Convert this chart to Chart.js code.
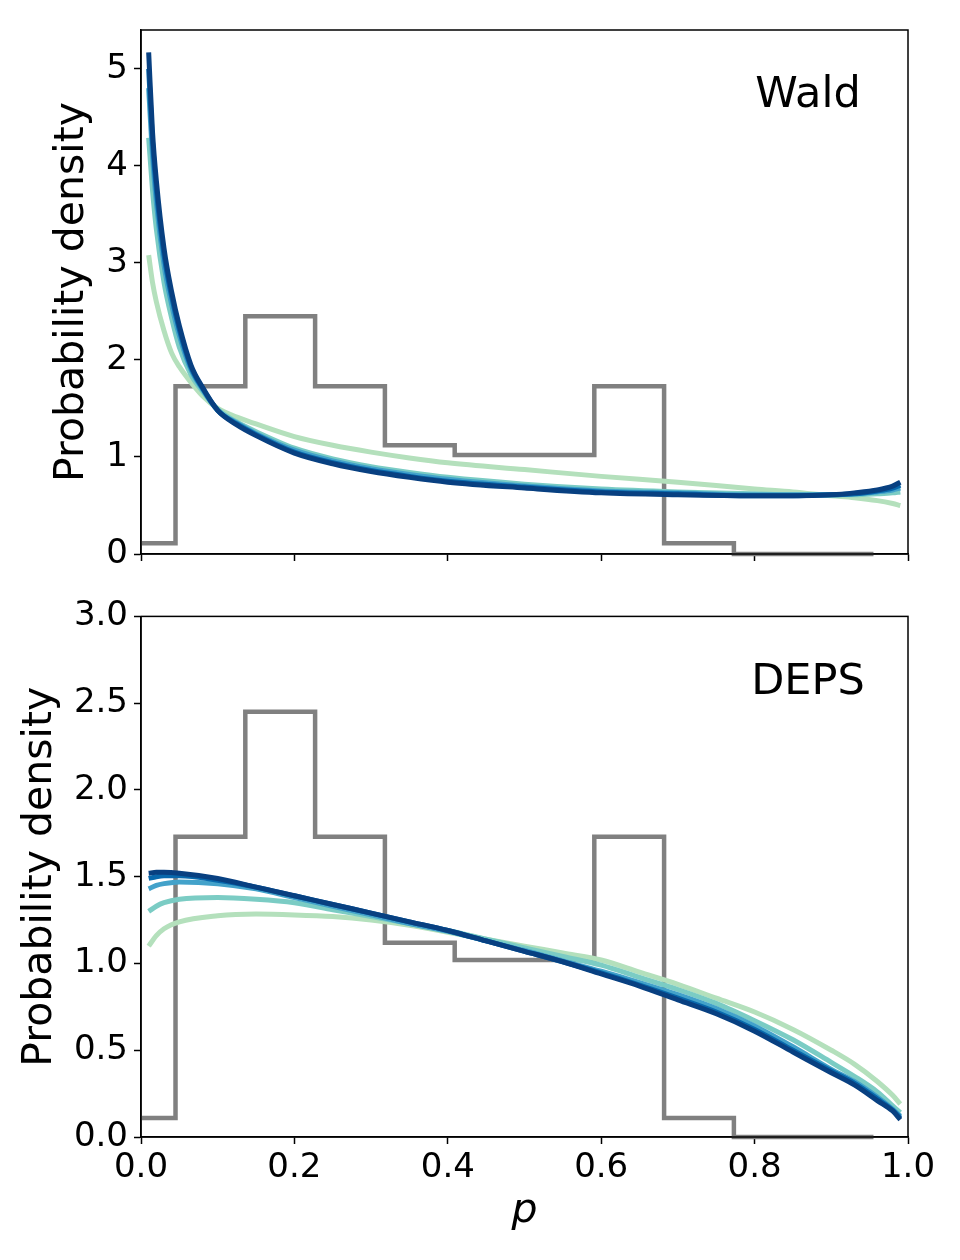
<!DOCTYPE html>
<html>
<head>
<meta charset="utf-8">
<script src="https://cdn.jsdelivr.net/npm/chart.js@4"></script>
<style>
  body { margin: 0; background: #fff; }
  #wrap { position: relative; width: 960px; height: 1260px; }
  canvas { position: absolute; left: 0; }
</style>
</head>
<body>
<div id="wrap">
  <canvas id="wald-chart" width="960" height="600" style="top:0"></canvas>
  <canvas id="deps-chart" width="960" height="670" style="top:590px"></canvas>
</div>
<script>
// histogram of observed p (same in both panels)
const histEdges = [-0.045, 0.045, 0.136, 0.227, 0.318, 0.409, 0.5, 0.591, 0.682, 0.773, 0.864, 0.955];
const histValues = [0.11, 1.73, 2.45, 1.73, 1.12, 1.02, 1.02, 1.73, 0.11, 0, 0];

// Wald panel curves
const pWald = [0.01, 0.015, 0.02, 0.03, 0.04, 0.05, 0.065, 0.08, 0.1, 0.125, 0.15, 0.2, 0.25, 0.3, 0.35, 0.4, 0.5, 0.6, 0.7, 0.8, 0.85, 0.9, 0.93, 0.96, 0.98, 0.99];
const waldGreen = [3.08, 2.8, 2.6, 2.3, 2.07, 1.93, 1.77, 1.63, 1.5, 1.41, 1.34, 1.21, 1.12, 1.05, 0.99, 0.94, 0.87, 0.8, 0.74, 0.67, 0.64, 0.6, 0.58, 0.55, 0.52, 0.5];
const waldTeal = [4.29, 3.75, 3.35, 2.8, 2.43, 2.13, 1.85, 1.68, 1.49, 1.36, 1.26, 1.09, 0.98, 0.9, 0.84, 0.79, 0.72, 0.67, 0.64, 0.62, 0.61, 0.61, 0.61, 0.62, 0.63, 0.64];
const waldLightBlue = [4.8, 4.1, 3.62, 2.98, 2.57, 2.25, 1.9, 1.7, 1.48, 1.35, 1.24, 1.07, 0.96, 0.88, 0.82, 0.77, 0.7, 0.65, 0.63, 0.61, 0.61, 0.61, 0.62, 0.64, 0.66, 0.68];
const waldBlue = [5.0, 4.25, 3.75, 3.08, 2.65, 2.31, 1.93, 1.71, 1.48, 1.34, 1.23, 1.05, 0.94, 0.86, 0.8, 0.75, 0.69, 0.64, 0.62, 0.6, 0.6, 0.61, 0.62, 0.65, 0.68, 0.71];
const waldNavy = [5.17, 4.35, 3.85, 3.15, 2.7, 2.35, 1.95, 1.72, 1.48, 1.33, 1.22, 1.04, 0.93, 0.85, 0.79, 0.74, 0.68, 0.63, 0.61, 0.6, 0.6, 0.61, 0.63, 0.66, 0.7, 0.74];

// DEPS panel curves
const pDeps = [0.01, 0.02, 0.03, 0.05, 0.1, 0.15, 0.2, 0.25, 0.3, 0.35, 0.4, 0.45, 0.5, 0.55, 0.6, 0.65, 0.7, 0.75, 0.8, 0.85, 0.9, 0.93, 0.96, 0.98, 0.99];
const depsGreen = [1.1, 1.16, 1.2, 1.24, 1.275, 1.285, 1.28, 1.27, 1.25, 1.22, 1.18, 1.14, 1.1, 1.06, 1.02, 0.95, 0.88, 0.8, 0.72, 0.62, 0.5, 0.42, 0.32, 0.24, 0.19];
const depsTeal = [1.3, 1.33, 1.35, 1.37, 1.38, 1.37, 1.35, 1.31, 1.27, 1.23, 1.19, 1.14, 1.09, 1.04, 0.99, 0.92, 0.85, 0.77, 0.67, 0.56, 0.43, 0.35, 0.26, 0.18, 0.14];
const depsLightBlue = [1.43, 1.45, 1.46, 1.47, 1.46, 1.43, 1.38, 1.33, 1.28, 1.23, 1.185, 1.13, 1.075, 1.015, 0.955, 0.89, 0.82, 0.74, 0.64, 0.52, 0.39, 0.32, 0.23, 0.16, 0.12];
const depsBlue = [1.49, 1.5, 1.505, 1.505, 1.48, 1.44, 1.39, 1.34, 1.29, 1.24, 1.19, 1.13, 1.07, 1.01, 0.945, 0.875, 0.8, 0.72, 0.62, 0.5, 0.38, 0.31, 0.22, 0.155, 0.11];
const depsNavy = [1.52, 1.525, 1.525, 1.52, 1.49, 1.44, 1.39, 1.34, 1.29, 1.24, 1.19, 1.13, 1.07, 1.01, 0.94, 0.87, 0.79, 0.71, 0.61, 0.49, 0.37, 0.3, 0.21, 0.15, 0.1];

const curveColors = ['#b4e0bc', '#7bccc4', '#43a2ca', '#0868ac', '#084081'];
const xTicks = [0, 0.2, 0.4, 0.6, 0.8, 1.0];
const waldTicks = [0, 1, 2, 3, 4, 5];
const depsTicks = [0, 0.5, 1.0, 1.5, 2.0, 2.5, 3.0];

const FONT = '"DejaVu Sans", sans-serif';

// box round the plot + the panel name
const framePlugin = {
  id: 'frame',
  afterDraw: function(chart, args, opts) {
    const a = chart.chartArea;
    const ctx = chart.ctx;
    ctx.save();
    ctx.strokeStyle = '#000';
    ctx.lineWidth = 1.5;
    ctx.strokeRect(a.left, a.top, a.right - a.left, a.bottom - a.top);
    ctx.fillStyle = '#000';
    ctx.font = '43px ' + FONT;
    ctx.textAlign = 'center';
    ctx.textBaseline = 'middle';
    ctx.fillText(opts.label, a.right - 100, a.top + 66);
    ctx.restore();
  }
};

function histPoints() {
  const pts = [];
  for (let i = 0; i < histValues.length; i++) {
    pts.push({ x: histEdges[i], y: histValues[i] });
  }
  pts.push({ x: histEdges[histEdges.length - 1], y: histValues[histValues.length - 1] });
  return pts;
}

function curve(xs, ys) {
  return xs.map(function(x, i) { return { x: x, y: ys[i] }; });
}

function makeChart(id, opt) {
  const datasets = [];
  opt.curves.forEach(function(ys, i) {
    datasets.push({
      data: curve(opt.p, ys),
      borderColor: curveColors[i],
      borderWidth: 5,
      pointRadius: 0,
      cubicInterpolationMode: 'monotone',
      order: 4 - i
    });
  });
  datasets.push({
    data: histPoints(),
    borderColor: '#808080',
    borderWidth: 4.5,
    pointRadius: 0,
    stepped: true,
    clip: { left: 0, top: 0, right: 0, bottom: 3 },
    order: 10
  });

  return new Chart(document.getElementById(id), {
    type: 'line',
    data: { datasets: datasets },
    plugins: [framePlugin],
    options: {
      responsive: false,
      animation: false,
      layout: { padding: opt.padding },
      plugins: {
        legend: { display: false },
        tooltip: { enabled: false },
        frame: { label: opt.label }
      },
      scales: {
        x: {
          type: 'linear',
          min: 0,
          max: 1,
          afterBuildTicks: function(s) { s.ticks = xTicks.map(function(v) { return { value: v }; }); },
          afterFit: function(s) { s.height = opt.xHeight; },
          border: { color: '#000', width: 1.5 },
          grid: { drawOnChartArea: false, tickLength: 7, tickColor: '#000', tickWidth: 1.5 },
          ticks: {
            display: opt.showX,
            color: '#000',
            padding: 4,
            maxRotation: 0,
            font: { family: FONT, size: 34 },
            callback: function(v) { return v.toFixed(1); }
          },
          title: {
            display: opt.showX,
            text: 'p',
            color: '#000',
            padding: { top: 0, bottom: 24 },
            font: { family: FONT, size: 41, style: 'italic' }
          }
        },
        y: {
          min: 0,
          max: opt.yMax,
          afterBuildTicks: function(s) { s.ticks = opt.yTicks.map(function(v) { return { value: v }; }); },
          afterFit: function(s) { s.width = opt.yWidth; },
          border: { color: '#000', width: 1.5 },
          grid: { drawOnChartArea: false, tickLength: 7, tickColor: '#000', tickWidth: 1.5 },
          ticks: {
            color: '#000',
            padding: 6,
            font: { family: FONT, size: 34 },
            callback: function(v) { return v.toFixed(opt.decimals); }
          },
          title: {
            display: true,
            text: 'Probability density',
            color: '#000',
            padding: { top: 0, bottom: 0 },
            font: { family: FONT, size: 41 }
          }
        }
      }
    }
  });
}

document.addEventListener('DOMContentLoaded', function() {
  makeChart('wald-chart', {
    label: 'Wald',
    p: pWald,
    curves: [waldGreen, waldTeal, waldLightBlue, waldBlue, waldNavy],
    yMax: 5.4,
    yTicks: waldTicks,
    decimals: 0,
    showX: false,
    padding: { left: 48, top: 30, right: 52, bottom: 0 },
    yWidth: 93,
    xHeight: 46
  });

  makeChart('deps-chart', {
    label: 'DEPS',
    p: pDeps,
    curves: [depsGreen, depsTeal, depsLightBlue, depsBlue, depsNavy],
    yMax: 3.0,
    yTicks: depsTicks,
    decimals: 1,
    showX: true,
    padding: { left: 16, top: 25, right: 52, bottom: 0 },
    yWidth: 125,
    xHeight: 123
  });
});
</script>
</body>
</html>
